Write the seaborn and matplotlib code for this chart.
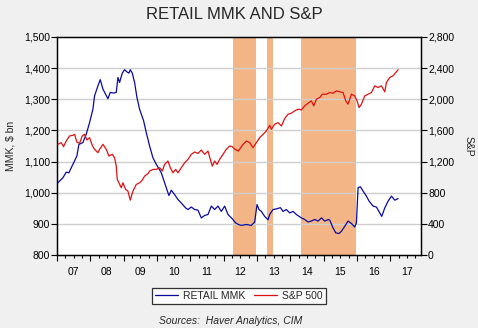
import matplotlib
matplotlib.use("Agg")
import matplotlib.pyplot as plt
import matplotlib.ticker as mticker
import seaborn as sns
import pandas as pd

# ---- data ----
mmk_year = [2007.03, 2007.18, 2007.28, 2007.36, 2007.43, 2007.53, 2007.60, 2007.66, 2007.78, 2007.88,
            2007.98, 2008.08, 2008.13, 2008.23, 2008.30, 2008.38, 2008.46, 2008.53, 2008.60, 2008.70,
            2008.78, 2008.83, 2008.88, 2008.96, 2009.03, 2009.10, 2009.16, 2009.20, 2009.26, 2009.33,
            2009.40, 2009.48, 2009.60, 2009.68, 2009.78, 2009.88, 2009.98, 2010.13, 2010.23, 2010.33,
            2010.36, 2010.43, 2010.53, 2010.63, 2010.73, 2010.86, 2010.93, 2011.03, 2011.13, 2011.23,
            2011.33, 2011.43, 2011.53, 2011.63, 2011.73, 2011.83, 2011.93, 2012.03, 2012.13, 2012.26,
            2012.36, 2012.44, 2012.53, 2012.68, 2012.83, 2012.93, 2013.00, 2013.06, 2013.13, 2013.23,
            2013.33, 2013.38, 2013.48, 2013.58, 2013.70, 2013.78, 2013.88, 2013.98, 2014.08, 2014.18,
            2014.33, 2014.43, 2014.53, 2014.63, 2014.73, 2014.83, 2014.93, 2015.03, 2015.14, 2015.18,
            2015.28, 2015.36, 2015.46, 2015.53, 2015.63, 2015.73, 2015.83, 2015.93, 2015.98, 2016.03,
            2016.10, 2016.18, 2016.28, 2016.36, 2016.48, 2016.58, 2016.68, 2016.74, 2016.83, 2016.93,
            2017.03, 2017.13, 2017.23]
mmk_val = [1032, 1048, 1066, 1064, 1080, 1102, 1118, 1155, 1161, 1188,
           1225, 1268, 1311, 1343, 1363, 1333, 1316, 1302, 1322, 1320,
           1322, 1370, 1354, 1384, 1395, 1388, 1384, 1395, 1384, 1354,
           1306, 1268, 1231, 1193, 1150, 1112, 1091, 1064, 1032, 1000,
           991, 1008, 994, 978, 967, 951, 946, 954, 946, 944,
           919, 927, 930, 957, 946, 957, 940, 957, 930, 916,
           903, 898, 895, 898, 895, 906, 962, 946, 940, 924,
           913, 930, 946, 948, 952, 940, 946, 935, 940, 930,
           919, 914, 906, 909, 914, 909, 919, 909, 914, 912,
           887, 871, 869, 876, 892, 909, 901, 890, 903, 1016,
           1019, 1005, 989, 973, 957, 954, 935, 924, 951, 973,
           989, 976, 981]

sp_year = [2007.03, 2007.13, 2007.20, 2007.28, 2007.38, 2007.48, 2007.53, 2007.60, 2007.68, 2007.76,
           2007.83, 2007.90, 2007.98, 2008.06, 2008.13, 2008.23, 2008.28, 2008.38, 2008.48, 2008.56,
           2008.66, 2008.73, 2008.78, 2008.81, 2008.86, 2008.93, 2008.98, 2009.06, 2009.13, 2009.20,
           2009.28, 2009.38, 2009.48, 2009.56, 2009.63, 2009.74, 2009.78, 2009.88, 2009.98, 2010.08,
           2010.16, 2010.23, 2010.33, 2010.40, 2010.48, 2010.56, 2010.63, 2010.73, 2010.83, 2010.93,
           2011.03, 2011.13, 2011.23, 2011.33, 2011.43, 2011.53, 2011.60, 2011.66, 2011.73, 2011.80,
           2011.88, 2011.98, 2012.08, 2012.18, 2012.26, 2012.34, 2012.44, 2012.58, 2012.68, 2012.78,
           2012.88, 2012.98, 2013.08, 2013.18, 2013.28, 2013.38, 2013.43, 2013.53, 2013.63, 2013.73,
           2013.83, 2013.93, 2014.03, 2014.13, 2014.23, 2014.33, 2014.43, 2014.53, 2014.63, 2014.70,
           2014.78, 2014.88, 2014.96, 2015.08, 2015.18, 2015.28, 2015.38, 2015.48, 2015.58, 2015.66,
           2015.73, 2015.83, 2015.93, 2016.00, 2016.06, 2016.13, 2016.23, 2016.33, 2016.43, 2016.53,
           2016.63, 2016.73, 2016.83, 2016.88, 2016.98, 2017.08, 2017.16, 2017.23]
sp_val = [1421, 1443, 1391, 1464, 1529, 1537, 1550, 1451, 1434, 1529,
          1550, 1477, 1507, 1408, 1357, 1314, 1357, 1421, 1357, 1271,
          1293, 1250, 1142, 970, 927, 863, 927, 842, 820, 704,
          820, 906, 927, 962, 1013, 1048, 1078, 1099, 1099, 1121,
          1078, 1164, 1207, 1121, 1056, 1099, 1056, 1121, 1185, 1228,
          1293, 1323, 1305, 1348, 1293, 1335, 1228, 1142, 1207, 1164,
          1228, 1293, 1357, 1400, 1391, 1357, 1335, 1421, 1464, 1443,
          1378, 1443, 1507, 1550, 1593, 1666, 1615, 1679, 1700, 1657,
          1752, 1808, 1821, 1851, 1872, 1864, 1915, 1950, 1980, 1915,
          2001, 2022, 2065, 2065, 2087, 2078, 2108, 2096, 2087, 1980,
          1937, 2065, 2044, 1980, 1894, 1937, 2044, 2065, 2087, 2173,
          2151, 2173, 2096, 2216, 2280, 2302, 2344, 2379]

shade_start = [2012.27, 2013.30, 2014.33]
shade_end = [2012.98, 2013.48, 2015.97]

year_labels = ["07", "08", "09", "10", "11", "12", "13", "14", "15", "16", "17"]
left_ticks = [800, 900, 1000, 1100, 1200, 1300, 1400, 1500]
right_ticks = [0, 400, 800, 1200, 1600, 2000, 2400, 2800]

mmk_df = pd.DataFrame({"year": mmk_year, "value": mmk_val})
sp_df = pd.DataFrame({"year": sp_year, "value": sp_val})

# ---- style ----
sns.set_style("white")
plt.rcParams["font.family"] = ["Liberation Sans", "DejaVu Sans"]

BG = "#F0F0F0"
BLUE = "#0A0AA0"
RED = "#DD1111"
SHADE = "#F3B585"

fig = plt.figure(figsize=(4.78, 3.28), dpi=100, facecolor=BG)
ax = fig.add_axes([0.119, 0.2226, 0.762, 0.6646])
ax.set_facecolor("white")

for s, e in zip(shade_start, shade_end):
    ax.axvspan(s, e, color=SHADE, lw=0, zorder=0)

for v in left_ticks[1:-1]:
    ax.axhline(v, color="#CFCFCF", lw=1.0, zorder=0.5)

sns.lineplot(data=mmk_df, x="year", y="value", ax=ax, color=BLUE, lw=0.9,
             label="RETAIL MMK", legend=False, zorder=3)
ax.set_ylim(800, 1500)
ax.set_yticks(left_ticks)
ax.yaxis.set_major_formatter(mticker.FuncFormatter(lambda v, p: f"{int(v):,}"))
ax.set_xlim(2007.0, 2017.92)
ax.set_xlabel("")
ax.set_ylabel("MMK, $ bn", fontsize=7.5, labelpad=6)

ax2 = ax.twinx()
sns.lineplot(data=sp_df, x="year", y="value", ax=ax2, color=RED, lw=0.9,
             label="S&P 500", legend=False, zorder=3)
ax2.set_ylim(0, 2800)
ax2.set_yticks(right_ticks)
ax2.yaxis.set_major_formatter(mticker.FuncFormatter(lambda v, p: f"{int(v):,}"))
ax2.set_ylabel("S&P", fontsize=7.5, rotation=-90, labelpad=14)
ax2.set_xlim(2007.0, 2017.92)

# x ticks: majors at year boundaries, labels centered mid-year
years = list(range(2007, 2018))
ax.set_xticks(years)
ax.set_xticklabels([""] * len(years))
minor_pos = [y + q for y in years for q in (0.25, 0.5, 0.75) if y + q < 2017.92]
ax.set_xticks(minor_pos, minor=True)
lab_map = {y + 0.5: l for y, l in zip(years, year_labels)}
ax.set_xticklabels([lab_map.get(p, "") for p in minor_pos], minor=True)

ax.tick_params(axis="x", which="major", length=4, width=0.8, direction="out", colors="black", labelsize=7.5)
ax.tick_params(axis="x", which="minor", length=2.5, width=0.8, direction="out", colors="black",
               labelsize=7.5, pad=6)
ax.tick_params(axis="y", length=4, width=0.8, direction="out", colors="black", labelsize=7.5, pad=1)
ax2.tick_params(axis="y", length=4, width=0.8, direction="out", colors="black", labelsize=7.5, pad=1)
ax.xaxis.set_tick_params(which="both", bottom=True)

for a in (ax, ax2):
    for sp in a.spines.values():
        sp.set_visible(True)
        sp.set_color("black")
        sp.set_linewidth(0.9)

fig.text(0.49, 0.955, "RETAIL MMK AND S&P", ha="center", va="center", fontsize=12)

h1, l1 = ax.get_legend_handles_labels()
h2, l2 = ax2.get_legend_handles_labels()
leg = fig.legend(h1 + h2, l1 + l2, loc="center", bbox_to_anchor=(0.5, 0.098), ncol=2,
                 fontsize=7.5, frameon=True, fancybox=False, edgecolor="black",
                 handlelength=2.2, columnspacing=0.8, borderpad=0.3, handletextpad=0.5)
leg.get_frame().set_linewidth(0.9)

fig.text(0.482, 0.022, "Sources:  Haver Analytics, CIM", ha="center", va="center",
         fontsize=7.5, style="italic")

fig.savefig("out.png", dpi=100, facecolor=BG)
